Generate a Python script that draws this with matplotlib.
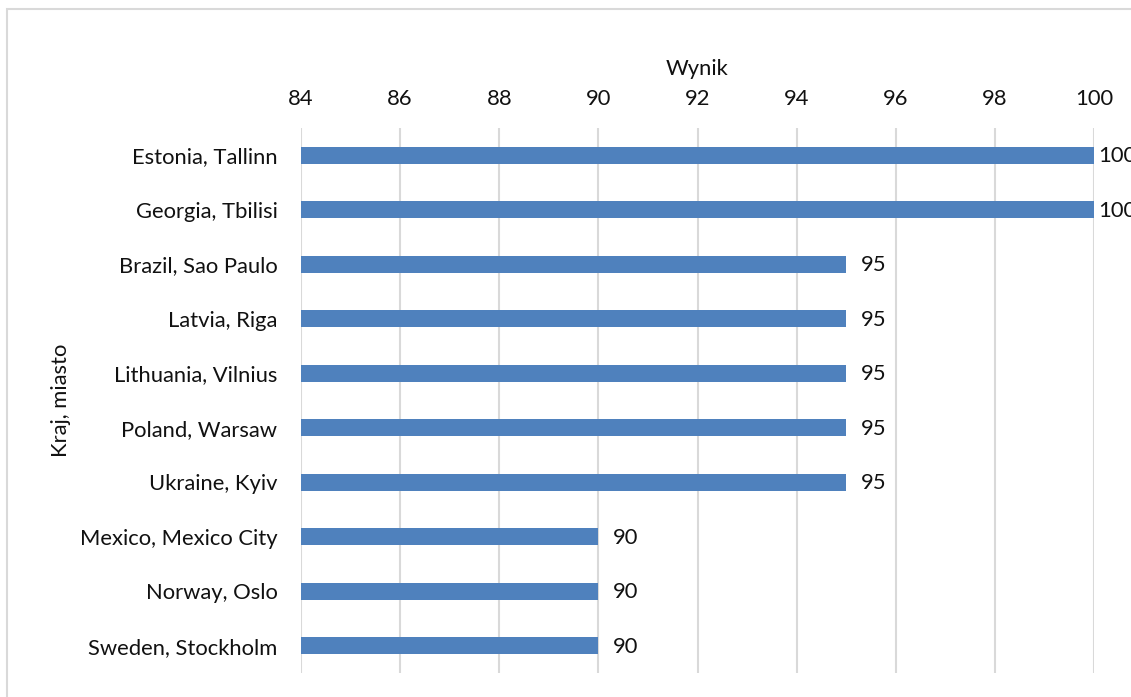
import matplotlib
matplotlib.use("Agg")
import matplotlib.pyplot as plt
from matplotlib.patches import Rectangle

categories = ["Estonia, Tallinn", "Georgia, Tbilisi", "Brazil, Sao Paulo", "Latvia, Riga",
              "Lithuania, Vilnius", "Poland, Warsaw", "Ukraine, Kyiv",
              "Mexico, Mexico City", "Norway, Oslo", "Sweden, Stockholm"]
values = [100, 100, 95, 95, 95, 95, 95, 90, 90, 90]
x_ticks = [84, 86, 88, 90, 92, 94, 96, 98, 100]

W, H, DPI = 1131, 697, 100
plt.rcParams['font.family'] = ['Lato', 'DejaVu Sans']
fig = plt.figure(figsize=(W / DPI, H / DPI), dpi=DPI)
fig.patch.set_facecolor('white')

# axes placement in pixels: left 301, right 1094, top 128, bottom 673
l, r, t, b = 301, 1094, 128, 673
ax = fig.add_axes([l / W, 1 - b / H, (r - l) / W, (b - t) / H])

fs = 15.8
y = list(range(len(categories)))
ax.barh(y, [v - x_ticks[0] for v in values], left=x_ticks[0], height=0.31,
        color='#4F81BD', zorder=3)
ax.set_xlim(x_ticks[0], x_ticks[-1])
ax.set_ylim(len(categories) - 0.5, -0.5)
ax.set_yticks(y)
ax.set_yticklabels(categories)
ax.set_xticks(x_ticks)
ax.xaxis.tick_top()
ax.xaxis.set_label_position('top')
ax.tick_params(axis='x', length=0, pad=14, labelsize=fs, labelcolor='#111111')
ax.tick_params(axis='y', length=0, pad=17, labelsize=fs, labelcolor='#111111')
ax.grid(axis='x', color='#D9D9D9', linewidth=1.5, zorder=0)
ax.set_axisbelow(True)
for s in ax.spines.values():
    s.set_visible(False)
ax.set_xlabel("Wynik", fontsize=fs, labelpad=10, color='#111111')
ax.set_ylabel("Kraj, miasto", fontsize=fs, labelpad=6, color='#111111')

for yi, v in zip(y, values):
    off = 4 if v >= x_ticks[-1] else 15
    ax.annotate(str(v), xy=(v, yi), xytext=(off, -1), textcoords='offset pixels',
                va='center', ha='left', fontsize=fs, color='#111111',
                annotation_clip=False)

fig.patches.append(Rectangle((7, -30), W + 30, H + 30 - 9, transform=None, fill=False,
                             edgecolor='#D9D9D9', linewidth=1.5))
fig.savefig("out.png", dpi=DPI)
